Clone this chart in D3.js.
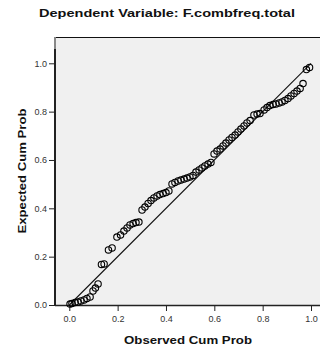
<!DOCTYPE html>
<html>
<head>
<meta charset="utf-8">
<script src="https://cdn.jsdelivr.net/npm/d3@7"></script>
<style>
  body { margin: 0; background: #fff; }
  svg { display: block; }
  text { font-family: "Liberation Sans", Arial, sans-serif; }
</style>
</head>
<body>
<div id="chart"></div>
<script>
// observed cumulative probability (x) and expected cumulative probability (y)
var observed = [0.003, 0.011, 0.024, 0.036, 0.048, 0.061, 0.073, 0.086, 0.098, 0.108,
  0.119, 0.133, 0.144, 0.162, 0.177, 0.197, 0.212, 0.226, 0.239, 0.251,
  0.264, 0.276, 0.288, 0.301, 0.313, 0.326, 0.338, 0.350, 0.363, 0.375,
  0.388, 0.400, 0.412, 0.425, 0.437, 0.450, 0.462, 0.475, 0.487, 0.499,
  0.512, 0.524, 0.537, 0.549, 0.561, 0.574, 0.586, 0.599, 0.611, 0.624,
  0.636, 0.648, 0.661, 0.673, 0.686, 0.698, 0.710, 0.723, 0.735, 0.748,
  0.764, 0.777, 0.789, 0.806, 0.818, 0.830, 0.843, 0.855, 0.868, 0.880,
  0.892, 0.905, 0.917, 0.930, 0.942, 0.955, 0.967, 0.981, 0.994];
var expected = [0.004, 0.006, 0.010, 0.012, 0.017, 0.021, 0.027, 0.033, 0.058, 0.070,
  0.087, 0.168, 0.170, 0.228, 0.236, 0.281, 0.290, 0.306, 0.319, 0.331,
  0.337, 0.341, 0.343, 0.393, 0.405, 0.420, 0.432, 0.443, 0.451, 0.457,
  0.461, 0.465, 0.472, 0.501, 0.507, 0.513, 0.517, 0.521, 0.525, 0.530,
  0.536, 0.550, 0.559, 0.567, 0.575, 0.583, 0.590, 0.625, 0.637, 0.645,
  0.658, 0.670, 0.683, 0.693, 0.703, 0.716, 0.728, 0.741, 0.753, 0.763,
  0.786, 0.790, 0.792, 0.807, 0.817, 0.825, 0.830, 0.832, 0.836, 0.840,
  0.846, 0.854, 0.865, 0.875, 0.885, 0.896, 0.916, 0.974, 0.983];
var tickValues = [0, 0.2, 0.4, 0.6, 0.8, 1.0];

var chartTitle = "Dependent Variable: F.combfreq.total";
var xTitle = "Observed Cum Prob";
var yTitle = "Expected Cum Prob";

var W = 320, H = 351;
var plot = { left: 55, right: 320, top: 37, bottom: 305 };

var svg = d3.select("#chart").append("svg")
  .attr("width", W)
  .attr("height", H);

var x = d3.scaleLinear().domain([0, 1]).range([69.3, 311]);
var y = d3.scaleLinear().domain([0, 1]).range([305, 63.3]);

// plot background
svg.append("rect")
  .attr("x", plot.left).attr("y", plot.top)
  .attr("width", plot.right - plot.left).attr("height", plot.bottom - plot.top)
  .attr("fill", "#f0f0f0");

// frame top line
svg.append("line")
  .attr("x1", plot.left).attr("x2", plot.right)
  .attr("y1", plot.top + 0.5).attr("y2", plot.top + 0.5)
  .attr("stroke", "#111").attr("stroke-width", 1);

// axes
var yAxis = d3.axisLeft(y).tickValues(tickValues).tickFormat(d3.format(".1f")).tickSize(6).tickPadding(2);
var xAxis = d3.axisBottom(x).tickValues(tickValues).tickFormat(d3.format(".1f")).tickSize(6).tickPadding(5);

var gy = svg.append("g").attr("transform", "translate(" + plot.left + ",0)").call(yAxis);
var gx = svg.append("g").attr("transform", "translate(0," + plot.bottom + ")").call(xAxis);

[gx, gy].forEach(function (g) {
  g.select(".domain").remove();
  g.selectAll(".tick line").attr("stroke", "#222").attr("stroke-width", 1);
  g.selectAll(".tick text")
    .attr("font-family", "'Liberation Sans', Arial, sans-serif")
    .attr("font-size", "9px")
    .attr("fill", "#333");
});

// axis lines
svg.append("line")
  .attr("x1", plot.left).attr("x2", plot.left)
  .attr("y1", plot.top).attr("y2", plot.top + 12)
  .attr("stroke", "#888").attr("stroke-width", 2);
svg.append("line")
  .attr("x1", plot.left).attr("x2", plot.left)
  .attr("y1", plot.top + 12).attr("y2", plot.bottom + 1)
  .attr("stroke", "#222").attr("stroke-width", 2);
svg.append("line")
  .attr("x1", plot.left).attr("x2", plot.right)
  .attr("y1", plot.bottom + 0.5).attr("y2", plot.bottom + 0.5)
  .attr("stroke", "#222").attr("stroke-width", 1.5);

// diagonal reference line
svg.append("line")
  .attr("x1", x(0)).attr("y1", y(0))
  .attr("x2", x(1)).attr("y2", y(1))
  .attr("stroke", "#111").attr("stroke-width", 1.1);

// points
var pts = d3.zip(observed, expected);
svg.append("g").selectAll("circle")
  .data(pts)
  .enter().append("circle")
  .attr("cx", function (d) { return x(d[0]); })
  .attr("cy", function (d) { return y(d[1]); })
  .attr("r", 3.2)
  .attr("fill", "none")
  .attr("stroke", "#000")
  .attr("stroke-width", 1.1);

// titles
svg.append("text")
  .attr("x", 167).attr("y", 17)
  .attr("text-anchor", "middle")
  .attr("font-weight", "bold")
  .attr("font-size", "11.5px")
  .attr("textLength", 256).attr("lengthAdjust", "spacingAndGlyphs")
  .attr("fill", "#111")
  .text(chartTitle);

svg.append("text")
  .attr("x", 188).attr("y", 344)
  .attr("text-anchor", "middle")
  .attr("font-weight", "bold")
  .attr("font-size", "11.5px")
  .attr("textLength", 128).attr("lengthAdjust", "spacingAndGlyphs")
  .attr("fill", "#111")
  .text(xTitle);

svg.append("text")
  .attr("transform", "translate(26,171) rotate(-90)")
  .attr("text-anchor", "middle")
  .attr("font-weight", "bold")
  .attr("font-size", "11.5px")
  .attr("textLength", 125).attr("lengthAdjust", "spacingAndGlyphs")
  .attr("fill", "#111")
  .text(yTitle);
</script>
</body>
</html>
